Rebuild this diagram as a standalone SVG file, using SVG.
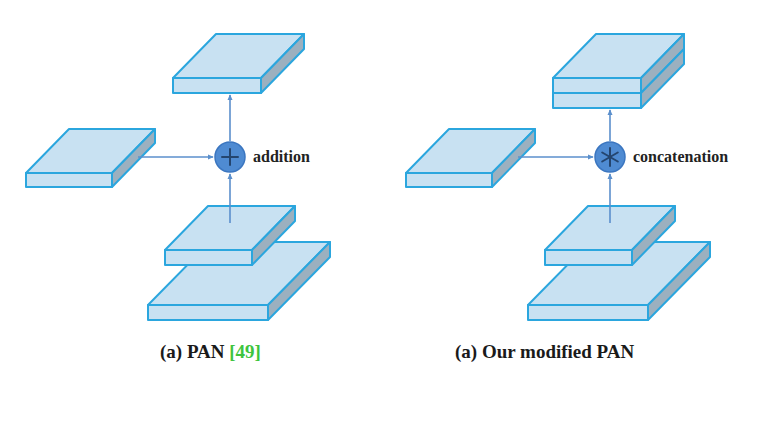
<svg xmlns="http://www.w3.org/2000/svg" width="777" height="435" viewBox="0 0 777 435">
<style>
.face{fill:#c8e1f2;stroke:#2ba6de;stroke-width:2;stroke-linejoin:round}
.side{fill:#9cb0bf;stroke:#2ba6de;stroke-width:2;stroke-linejoin:round}
.conn{stroke:#5b8fcc;stroke-width:1.6;fill:none}
.op{fill:#4f8bd2;stroke:#3b76c0;stroke-width:1.5}
.sym{stroke:#24456f;stroke-width:2;fill:none;stroke-linecap:round}
.lbl{font-family:"Liberation Serif",serif;font-weight:bold;font-size:16px;fill:#222}
.cap{font-family:"Liberation Serif",serif;font-weight:bold;font-size:19px;fill:#1a1a1a}
</style>
<defs>
<marker id="ah" viewBox="0 0 8 8" refX="7" refY="4" markerWidth="6" markerHeight="6" orient="auto" markerUnits="userSpaceOnUse">
<path d="M0,0.5 L8,4 L0,7.5 Z" fill="#5b8fcc"/>
</marker>
</defs>
<rect width="777" height="435" fill="#ffffff"/>

<g id="pan-top">
<polygon class="face" points="173,78 216,34 304,34 261,78"/>
<polygon class="side" points="261,78 304,34 304,49 261,93"/>
<rect class="face" x="173" y="78" width="88" height="15"/>
</g>
<g id="pan-left">
<polygon class="face" points="26,173 69,129 155,129 112,173"/>
<polygon class="side" points="112,173 155,129 155,143 112,187"/>
<rect class="face" x="26" y="173" width="86" height="14"/>
</g>
<g id="pan-large">
<polygon class="face" points="148,305 210,242 330,242 268,305"/>
<polygon class="side" points="268,305 330,242 330,257 268,320"/>
<rect class="face" x="148" y="305" width="120" height="15"/>
</g>
<g id="pan-upper">
<polygon class="face" points="165,250 208,206 295,206 252,250"/>
<polygon class="side" points="252,250 295,206 295,221 252,265"/>
<rect class="face" x="165" y="250" width="87" height="15"/>
</g>

<g id="mod-top">
<polygon class="face" points="553,78 596,34 684,34 641,78"/>
<polygon class="side" points="641,78 684,34 684,49 641,93"/>
<polygon class="side" points="641,93 684,49 684,64 641,108"/>
<rect class="face" x="553" y="78" width="88" height="15"/>
<rect class="face" x="553" y="93" width="88" height="15"/>
</g>
<g id="mod-left">
<polygon class="face" points="406,173 449,129 535,129 492,173"/>
<polygon class="side" points="492,173 535,129 535,143 492,187"/>
<rect class="face" x="406" y="173" width="86" height="14"/>
</g>
<g id="mod-large">
<polygon class="face" points="528,305 590,242 710,242 648,305"/>
<polygon class="side" points="648,305 710,242 710,257 648,320"/>
<rect class="face" x="528" y="305" width="120" height="15"/>
</g>
<g id="mod-upper">
<polygon class="face" points="545,250 588,206 675,206 632,250"/>
<polygon class="side" points="632,250 675,206 675,221 632,265"/>
<rect class="face" x="545" y="250" width="87" height="15"/>
</g>

<g id="connectors">
<line class="conn" x1="138" y1="157" x2="213" y2="157" marker-end="url(#ah)"/>
<line class="conn" x1="230" y1="223" x2="230" y2="174" marker-end="url(#ah)"/>
<line class="conn" x1="230" y1="141" x2="230" y2="95" marker-end="url(#ah)"/>
<line class="conn" x1="518" y1="157" x2="593" y2="157" marker-end="url(#ah)"/>
<line class="conn" x1="610" y1="223" x2="610" y2="174" marker-end="url(#ah)"/>
<line class="conn" x1="610" y1="141" x2="610" y2="110" marker-end="url(#ah)"/>
</g>

<g id="pan-add">
<circle class="op" cx="230" cy="157" r="15"/>
<path class="sym" d="M230,149 V165 M222,157 H238"/>
<text class="lbl" x="253" y="162">addition</text>
</g>
<g id="mod-concat">
<circle class="op" cx="610" cy="157" r="15"/>
<path class="sym" d="M610,148 V166 M602.2,152.5 L617.8,161.5 M602.2,161.5 L617.8,152.5" stroke-width="1.6"/>
<text class="lbl" x="633" y="162">concatenation</text>
</g>

<g id="captions">
<text class="cap" x="160" y="358">(a) PAN <tspan fill="#3ec43e">[49]</tspan></text>
<text class="cap" x="455" y="358">(a) Our modified PAN</text>
</g>
</svg>
